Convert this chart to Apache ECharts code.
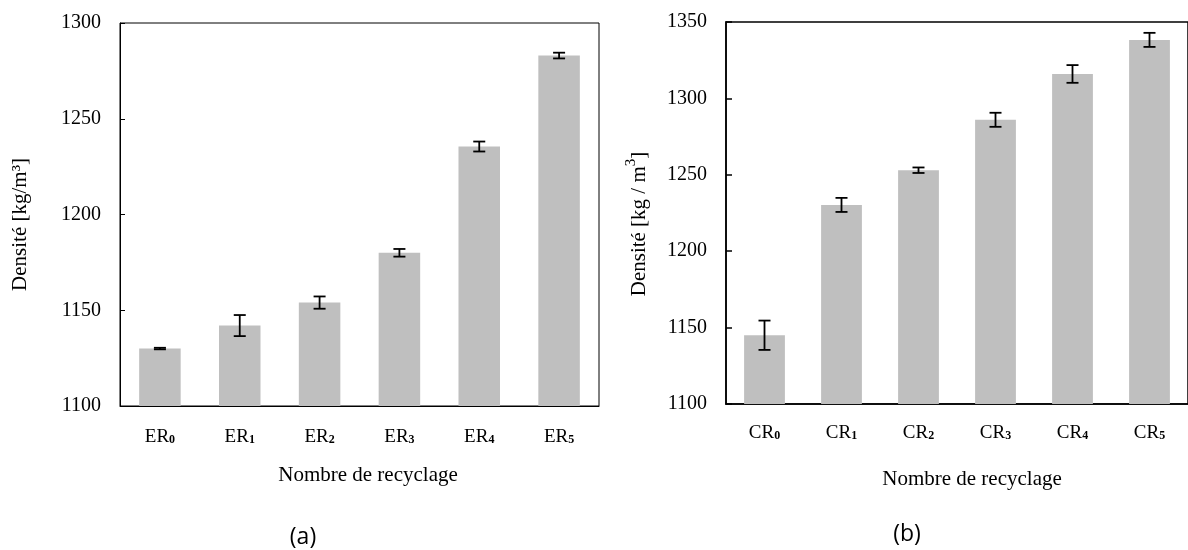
<!DOCTYPE html>
<html>
<head>
<meta charset="utf-8">
<script src="https://cdn.jsdelivr.net/npm/echarts@6/dist/echarts.min.js"></script>
<style>
html,body{margin:0;padding:0;background:#fff;}
#chart{width:1188px;height:550px;}
</style>
</head>
<body>
<div id="chart"></div>
<script>
// ---- data ----
var categoriesA = ['0', '1', '2', '3', '4', '5'];
var prefixA = 'ER';
var valuesA = [1130, 1142, 1154, 1180, 1235.5, 1283];
var errorsA = [0.4, 5.5, 3.2, 2, 2.6, 1.5];

var categoriesB = ['0', '1', '2', '3', '4', '5'];
var prefixB = 'CR';
var valuesB = [1145, 1230.3, 1253, 1286, 1316, 1338.3];
var errorsB = [9.6, 4.6, 1.8, 4.6, 5.8, 4.6];

var yTicksA = {min: 1100, max: 1300, interval: 50};
var yTicksB = {min: 1100, max: 1350, interval: 50};

var yNameA = 'Densité [kg/m³]';
var yNameB = '{t|Densité [kg / m}{sup|3}{t|]}';
var xName = 'Nombre de recyclage';
var captionA = '(a)';
var captionB = '(b)';

// ---- build ----
var serif = 'Liberation Serif';
function errData(vals, errs) {
  return vals.map(function (v, i) { return [i, v - errs[i], v + errs[i]]; });
}
function errRender(params, api) {
  var x = api.value(0);
  var lo = api.coord([x, api.value(1)]);
  var hi = api.coord([x, api.value(2)]);
  var hw = 6;
  var style = {stroke: '#000', lineWidth: 1.8, fill: null};
  return {
    type: 'group',
    children: [
      {type: 'line', shape: {x1: lo[0], y1: lo[1], x2: hi[0], y2: hi[1]}, style: style},
      {type: 'line', shape: {x1: lo[0] - hw, y1: lo[1], x2: lo[0] + hw, y2: lo[1]}, style: style},
      {type: 'line', shape: {x1: hi[0] - hw, y1: hi[1], x2: hi[0] + hw, y2: hi[1]}, style: style}
    ]
  };
}
function catLabel(prefix) {
  return function (v) { return '{m|' + prefix + '}{s|' + v + '}'; };
}
function plain(v) { return String(v); }
var rich = {
  m: {fontFamily: serif, fontSize: 19, color: '#000', lineHeight: 22, verticalAlign: 'bottom'},
  s: {fontFamily: serif, fontSize: 12, color: '#000', fontWeight: 'bold', lineHeight: 22, verticalAlign: 'bottom', padding: [0, 0, 1, 0]}
};
var nameRichB = {
  t: {fontFamily: serif, fontSize: 21, color: '#000', lineHeight: 26, verticalAlign: 'bottom'},
  sup: {fontFamily: serif, fontSize: 15, color: '#000', lineHeight: 26, verticalAlign: 'top'}
};

var chart = echarts.init(document.getElementById('chart'), null, {renderer: 'canvas'});
chart.setOption({
  animation: false,
  backgroundColor: '#fff',
  grid: [
    {left: 120, top: 23, width: 479, height: 383, show: true, borderColor: '#000', borderWidth: 1, backgroundColor: 'transparent', containLabel: false},
    {left: 726, top: 22, width: 470, height: 382, show: true, borderColor: '#000', borderWidth: 1.5, backgroundColor: 'transparent', containLabel: false}
  ],
  xAxis: [
    {type: 'category', gridIndex: 0, data: categoriesA,
     axisLine: {show: true, lineStyle: {color: '#000', width: 1}},
     axisTick: {show: false},
     axisLabel: {margin: 19, interval: 0, formatter: catLabel(prefixA), rich: rich},
     name: xName, nameLocation: 'middle', nameGap: 59,
     nameTextStyle: {fontFamily: serif, fontSize: 21, color: '#000', padding: [0, 0, 0, 17]}},
    {type: 'category', gridIndex: 1, data: categoriesB,
     axisLine: {show: true, lineStyle: {color: '#000', width: 1.5}},
     axisTick: {show: false},
     axisLabel: {margin: 17, interval: 0, formatter: catLabel(prefixB), rich: rich},
     name: xName, nameLocation: 'middle', nameGap: 65,
     nameTextStyle: {fontFamily: serif, fontSize: 21, color: '#000', padding: [0, 0, 0, 30]}}
  ],
  yAxis: [
    {type: 'value', gridIndex: 0, min: yTicksA.min, max: yTicksA.max, interval: yTicksA.interval,
     axisLine: {show: true, lineStyle: {color: '#000', width: 1}},
     axisTick: {show: true, inside: true, length: 5, lineStyle: {color: '#000', width: 1}},
     splitLine: {show: false},
     axisLabel: {margin: 19, fontFamily: serif, fontSize: 20, color: '#000', formatter: plain},
     name: yNameA, nameLocation: 'middle', nameGap: 89, nameRotate: 90,
     nameTextStyle: {fontFamily: serif, fontSize: 21, color: '#000', padding: [0, 20, 0, 0]}},
    {type: 'value', gridIndex: 1, min: yTicksB.min, max: yTicksB.max, interval: yTicksB.interval,
     axisLine: {show: true, lineStyle: {color: '#000', width: 1.5}},
     axisTick: {show: true, inside: true, length: 6, lineStyle: {color: '#000', width: 1.5}},
     splitLine: {show: false},
     axisLabel: {margin: 19, fontFamily: serif, fontSize: 20, color: '#000', formatter: plain},
     name: yNameB, nameLocation: 'middle', nameGap: 76, nameRotate: 90,
     nameTextStyle: {fontFamily: serif, fontSize: 21, color: '#000', padding: [0, 22, 0, 0], rich: nameRichB}}
  ],
  series: [
    {type: 'bar', xAxisIndex: 0, yAxisIndex: 0, data: valuesA, barCategoryGap: '48%',
     itemStyle: {color: '#bfbfbf'}, silent: true},
    {type: 'custom', xAxisIndex: 0, yAxisIndex: 0, data: errData(valuesA, errorsA),
     renderItem: errRender, z: 10, silent: true},
    {type: 'bar', xAxisIndex: 1, yAxisIndex: 1, data: valuesB, barCategoryGap: '47%',
     itemStyle: {color: '#bfbfbf'}, silent: true},
    {type: 'custom', xAxisIndex: 1, yAxisIndex: 1, data: errData(valuesB, errorsB),
     renderItem: errRender, z: 10, silent: true}
  ],
  graphic: [
    {type: 'text', x: 303, y: 537, style: {text: captionA, font: '23px "Open Sans"', fill: '#000', align: 'center', verticalAlign: 'middle'}},
    {type: 'text', x: 907, y: 534, style: {text: captionB, font: '23px "Open Sans"', fill: '#000', align: 'center', verticalAlign: 'middle'}}
  ]
});
</script>
</body>
</html>
